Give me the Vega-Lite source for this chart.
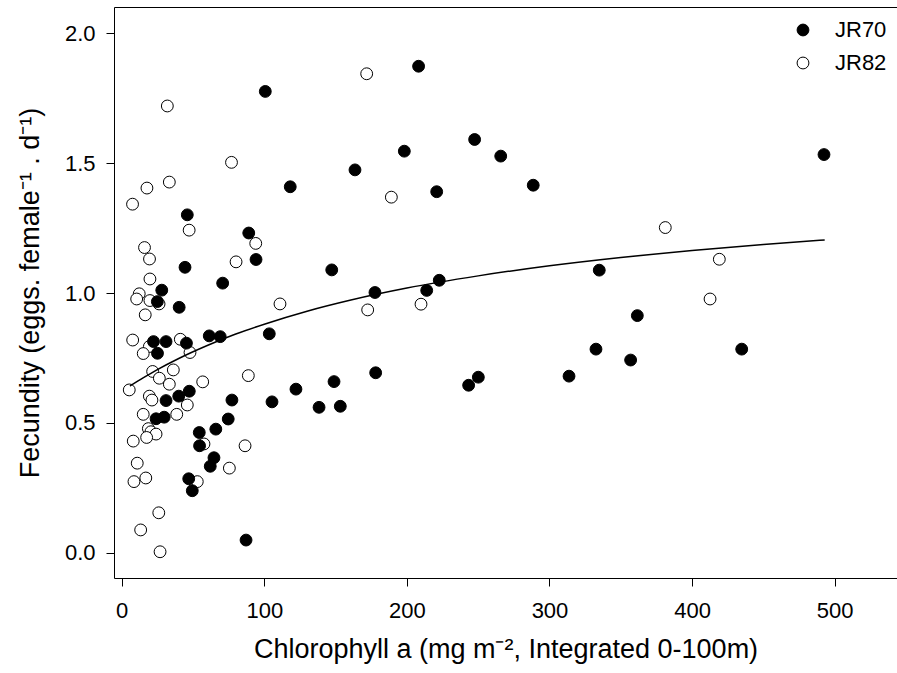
{
  "$schema": "https://vega.github.io/schema/vega-lite/v6.json",
  "width": 783,
  "height": 571,
  "autosize": "none",
  "padding": {"left": 114, "top": 7, "right": 0, "bottom": 95},
  "background": "white",
  "config": {
    "font": "Liberation Sans",
    "view": {"stroke": null},
    "axis": {
      "domainColor": "black", "tickColor": "black", "labelColor": "black", "titleColor": "black",
      "grid": false, "labelFontSize": 22, "titleFontSize": 27, "titleFontWeight": "normal",
      "tickSize": 8, "domainWidth": 1, "tickWidth": 1
    },
    "legend": {"labelFontSize": 22, "labelColor": "black"}
  },
  "datasets": {
    "points": [
      {"cruise": "JR82", "chl": 32.0, "fec": 1.720},
      {"cruise": "JR82", "chl": 171.8, "fec": 1.844},
      {"cruise": "JR82", "chl": 77.0, "fec": 1.503},
      {"cruise": "JR82", "chl": 33.4, "fec": 1.427},
      {"cruise": "JR82", "chl": 17.7, "fec": 1.404},
      {"cruise": "JR82", "chl": 7.6, "fec": 1.342},
      {"cruise": "JR82", "chl": 47.3, "fec": 1.242},
      {"cruise": "JR82", "chl": 94.0, "fec": 1.191},
      {"cruise": "JR82", "chl": 16.0, "fec": 1.175},
      {"cruise": "JR82", "chl": 19.5, "fec": 1.131},
      {"cruise": "JR82", "chl": 80.2, "fec": 1.120},
      {"cruise": "JR82", "chl": 19.8, "fec": 1.054},
      {"cruise": "JR82", "chl": 12.3, "fec": 0.997},
      {"cruise": "JR82", "chl": 10.5, "fec": 0.977},
      {"cruise": "JR82", "chl": 19.8, "fec": 0.971},
      {"cruise": "JR82", "chl": 26.2, "fec": 0.958},
      {"cruise": "JR82", "chl": 16.5, "fec": 0.916},
      {"cruise": "JR82", "chl": 111.0, "fec": 0.958},
      {"cruise": "JR82", "chl": 189.1, "fec": 1.369},
      {"cruise": "JR82", "chl": 172.5, "fec": 0.935},
      {"cruise": "JR82", "chl": 209.9, "fec": 0.957},
      {"cruise": "JR82", "chl": 381.2, "fec": 1.252},
      {"cruise": "JR82", "chl": 419.1, "fec": 1.130},
      {"cruise": "JR82", "chl": 412.6, "fec": 0.977},
      {"cruise": "JR82", "chl": 7.7, "fec": 0.819},
      {"cruise": "JR82", "chl": 41.1, "fec": 0.822},
      {"cruise": "JR82", "chl": 19.4, "fec": 0.794},
      {"cruise": "JR82", "chl": 15.1, "fec": 0.767},
      {"cruise": "JR82", "chl": 47.9, "fec": 0.771},
      {"cruise": "JR82", "chl": 21.7, "fec": 0.698},
      {"cruise": "JR82", "chl": 36.2, "fec": 0.704},
      {"cruise": "JR82", "chl": 26.4, "fec": 0.672},
      {"cruise": "JR82", "chl": 33.4, "fec": 0.649},
      {"cruise": "JR82", "chl": 56.8, "fec": 0.658},
      {"cruise": "JR82", "chl": 88.8, "fec": 0.682},
      {"cruise": "JR82", "chl": 5.3, "fec": 0.627},
      {"cruise": "JR82", "chl": 19.4, "fec": 0.603},
      {"cruise": "JR82", "chl": 21.2, "fec": 0.588},
      {"cruise": "JR82", "chl": 46.0, "fec": 0.569},
      {"cruise": "JR82", "chl": 15.1, "fec": 0.533},
      {"cruise": "JR82", "chl": 38.6, "fec": 0.533},
      {"cruise": "JR82", "chl": 18.7, "fec": 0.478},
      {"cruise": "JR82", "chl": 20.5, "fec": 0.466},
      {"cruise": "JR82", "chl": 24.1, "fec": 0.457},
      {"cruise": "JR82", "chl": 17.5, "fec": 0.444},
      {"cruise": "JR82", "chl": 8.1, "fec": 0.430},
      {"cruise": "JR82", "chl": 57.7, "fec": 0.419},
      {"cruise": "JR82", "chl": 86.5, "fec": 0.412},
      {"cruise": "JR82", "chl": 75.5, "fec": 0.326},
      {"cruise": "JR82", "chl": 10.9, "fec": 0.345},
      {"cruise": "JR82", "chl": 8.6, "fec": 0.274},
      {"cruise": "JR82", "chl": 16.9, "fec": 0.288},
      {"cruise": "JR82", "chl": 53.0, "fec": 0.274},
      {"cruise": "JR82", "chl": 26.0, "fec": 0.154},
      {"cruise": "JR82", "chl": 13.3, "fec": 0.088},
      {"cruise": "JR82", "chl": 26.9, "fec": 0.004},
      {"cruise": "JR70", "chl": 100.7, "fec": 1.776},
      {"cruise": "JR70", "chl": 208.2, "fec": 1.873},
      {"cruise": "JR70", "chl": 198.2, "fec": 1.546},
      {"cruise": "JR70", "chl": 118.2, "fec": 1.409},
      {"cruise": "JR70", "chl": 46.0, "fec": 1.301},
      {"cruise": "JR70", "chl": 89.1, "fec": 1.231},
      {"cruise": "JR70", "chl": 94.2, "fec": 1.129},
      {"cruise": "JR70", "chl": 44.4, "fec": 1.099},
      {"cruise": "JR70", "chl": 70.8, "fec": 1.038},
      {"cruise": "JR70", "chl": 28.1, "fec": 1.011},
      {"cruise": "JR70", "chl": 25.0, "fec": 0.967},
      {"cruise": "JR70", "chl": 40.3, "fec": 0.945},
      {"cruise": "JR70", "chl": 22.3, "fec": 0.813},
      {"cruise": "JR70", "chl": 31.1, "fec": 0.813},
      {"cruise": "JR70", "chl": 45.4, "fec": 0.807},
      {"cruise": "JR70", "chl": 61.4, "fec": 0.835},
      {"cruise": "JR70", "chl": 69.1, "fec": 0.832},
      {"cruise": "JR70", "chl": 25.1, "fec": 0.768},
      {"cruise": "JR70", "chl": 47.4, "fec": 0.622},
      {"cruise": "JR70", "chl": 40.0, "fec": 0.603},
      {"cruise": "JR70", "chl": 31.1, "fec": 0.586},
      {"cruise": "JR70", "chl": 77.3, "fec": 0.588},
      {"cruise": "JR70", "chl": 29.8, "fec": 0.522},
      {"cruise": "JR70", "chl": 24.1, "fec": 0.516},
      {"cruise": "JR70", "chl": 74.7, "fec": 0.515},
      {"cruise": "JR70", "chl": 66.0, "fec": 0.476},
      {"cruise": "JR70", "chl": 54.4, "fec": 0.463},
      {"cruise": "JR70", "chl": 54.6, "fec": 0.412},
      {"cruise": "JR70", "chl": 64.7, "fec": 0.366},
      {"cruise": "JR70", "chl": 62.1, "fec": 0.333},
      {"cruise": "JR70", "chl": 47.0, "fec": 0.285},
      {"cruise": "JR70", "chl": 49.5, "fec": 0.239},
      {"cruise": "JR70", "chl": 87.2, "fec": 0.049},
      {"cruise": "JR70", "chl": 103.5, "fec": 0.843},
      {"cruise": "JR70", "chl": 122.2, "fec": 0.630},
      {"cruise": "JR70", "chl": 105.4, "fec": 0.581},
      {"cruise": "JR70", "chl": 163.6, "fec": 1.474},
      {"cruise": "JR70", "chl": 147.3, "fec": 1.089},
      {"cruise": "JR70", "chl": 177.6, "fec": 1.002},
      {"cruise": "JR70", "chl": 178.1, "fec": 0.693},
      {"cruise": "JR70", "chl": 148.9, "fec": 0.659},
      {"cruise": "JR70", "chl": 138.4, "fec": 0.560},
      {"cruise": "JR70", "chl": 153.3, "fec": 0.564},
      {"cruise": "JR70", "chl": 247.5, "fec": 1.591},
      {"cruise": "JR70", "chl": 265.8, "fec": 1.527},
      {"cruise": "JR70", "chl": 220.9, "fec": 1.390},
      {"cruise": "JR70", "chl": 288.6, "fec": 1.415},
      {"cruise": "JR70", "chl": 334.9, "fec": 1.088},
      {"cruise": "JR70", "chl": 222.7, "fec": 1.049},
      {"cruise": "JR70", "chl": 213.9, "fec": 1.010},
      {"cruise": "JR70", "chl": 492.5, "fec": 1.533},
      {"cruise": "JR70", "chl": 361.6, "fec": 0.913},
      {"cruise": "JR70", "chl": 332.6, "fec": 0.784},
      {"cruise": "JR70", "chl": 356.9, "fec": 0.742},
      {"cruise": "JR70", "chl": 434.8, "fec": 0.784},
      {"cruise": "JR70", "chl": 250.1, "fec": 0.676},
      {"cruise": "JR70", "chl": 243.3, "fec": 0.645},
      {"cruise": "JR70", "chl": 313.7, "fec": 0.680}
    ],
    "curve": [
      {"chl": 5.8, "fec": 0.642},
      {"chl": 15, "fec": 0.673},
      {"chl": 25, "fec": 0.705},
      {"chl": 40, "fec": 0.748},
      {"chl": 60, "fec": 0.798},
      {"chl": 80, "fec": 0.842},
      {"chl": 100, "fec": 0.880},
      {"chl": 130, "fec": 0.930},
      {"chl": 160, "fec": 0.972},
      {"chl": 200, "fec": 1.019},
      {"chl": 250, "fec": 1.066},
      {"chl": 300, "fec": 1.105},
      {"chl": 350, "fec": 1.137},
      {"chl": 400, "fec": 1.164},
      {"chl": 450, "fec": 1.187},
      {"chl": 493, "fec": 1.204}
    ]
  },
  "layer": [
    {
      "data": {"name": "points"},
      "mark": {"type": "point", "shape": "circle", "filled": true, "size": 140, "stroke": "black", "strokeWidth": 1, "opacity": 1},
      "encoding": {
        "x": {
          "field": "chl", "type": "quantitative",
          "scale": {"domain": [-5.4, 543.7], "nice": false, "zero": false},
          "axis": {"values": [0, 100, 200, 300, 400, 500], "title": "Chlorophyll a (mg m⁻², Integrated 0-100m)", "labelPadding": 14, "titlePadding": 15}
        },
        "y": {
          "field": "fec", "type": "quantitative",
          "scale": {"domain": [-0.097, 2.101], "nice": false, "zero": false},
          "axis": {"values": [0, 0.5, 1, 1.5, 2], "format": ".1f", "title": "Fecundity (eggs. female⁻¹ . d⁻¹)", "labelPadding": 11, "titlePadding": 20}
        },
        "fill": {
          "field": "cruise", "type": "nominal",
          "scale": {"domain": ["JR70", "JR82"], "range": ["black", "white"]},
          "legend": {
            "title": null, "orient": "none", "legendX": 678, "legendY": 12,
            "symbolType": "circle", "symbolSize": 140, "symbolStrokeColor": "black", "symbolStrokeWidth": 1,
            "labelOffset": 21, "rowPadding": 11, "padding": 0
          }
        }
      }
    },
    {
      "data": {"name": "curve"},
      "mark": {"type": "line", "color": "black", "strokeWidth": 1.5, "interpolate": "monotone"},
      "encoding": {
        "x": {"field": "chl", "type": "quantitative", "axis": {"orient": "top", "labels": false, "ticks": false, "title": null}},
        "y": {"field": "fec", "type": "quantitative"}
      }
    }
  ],
  "resolve": {"axis": {"x": "independent"}}
}
